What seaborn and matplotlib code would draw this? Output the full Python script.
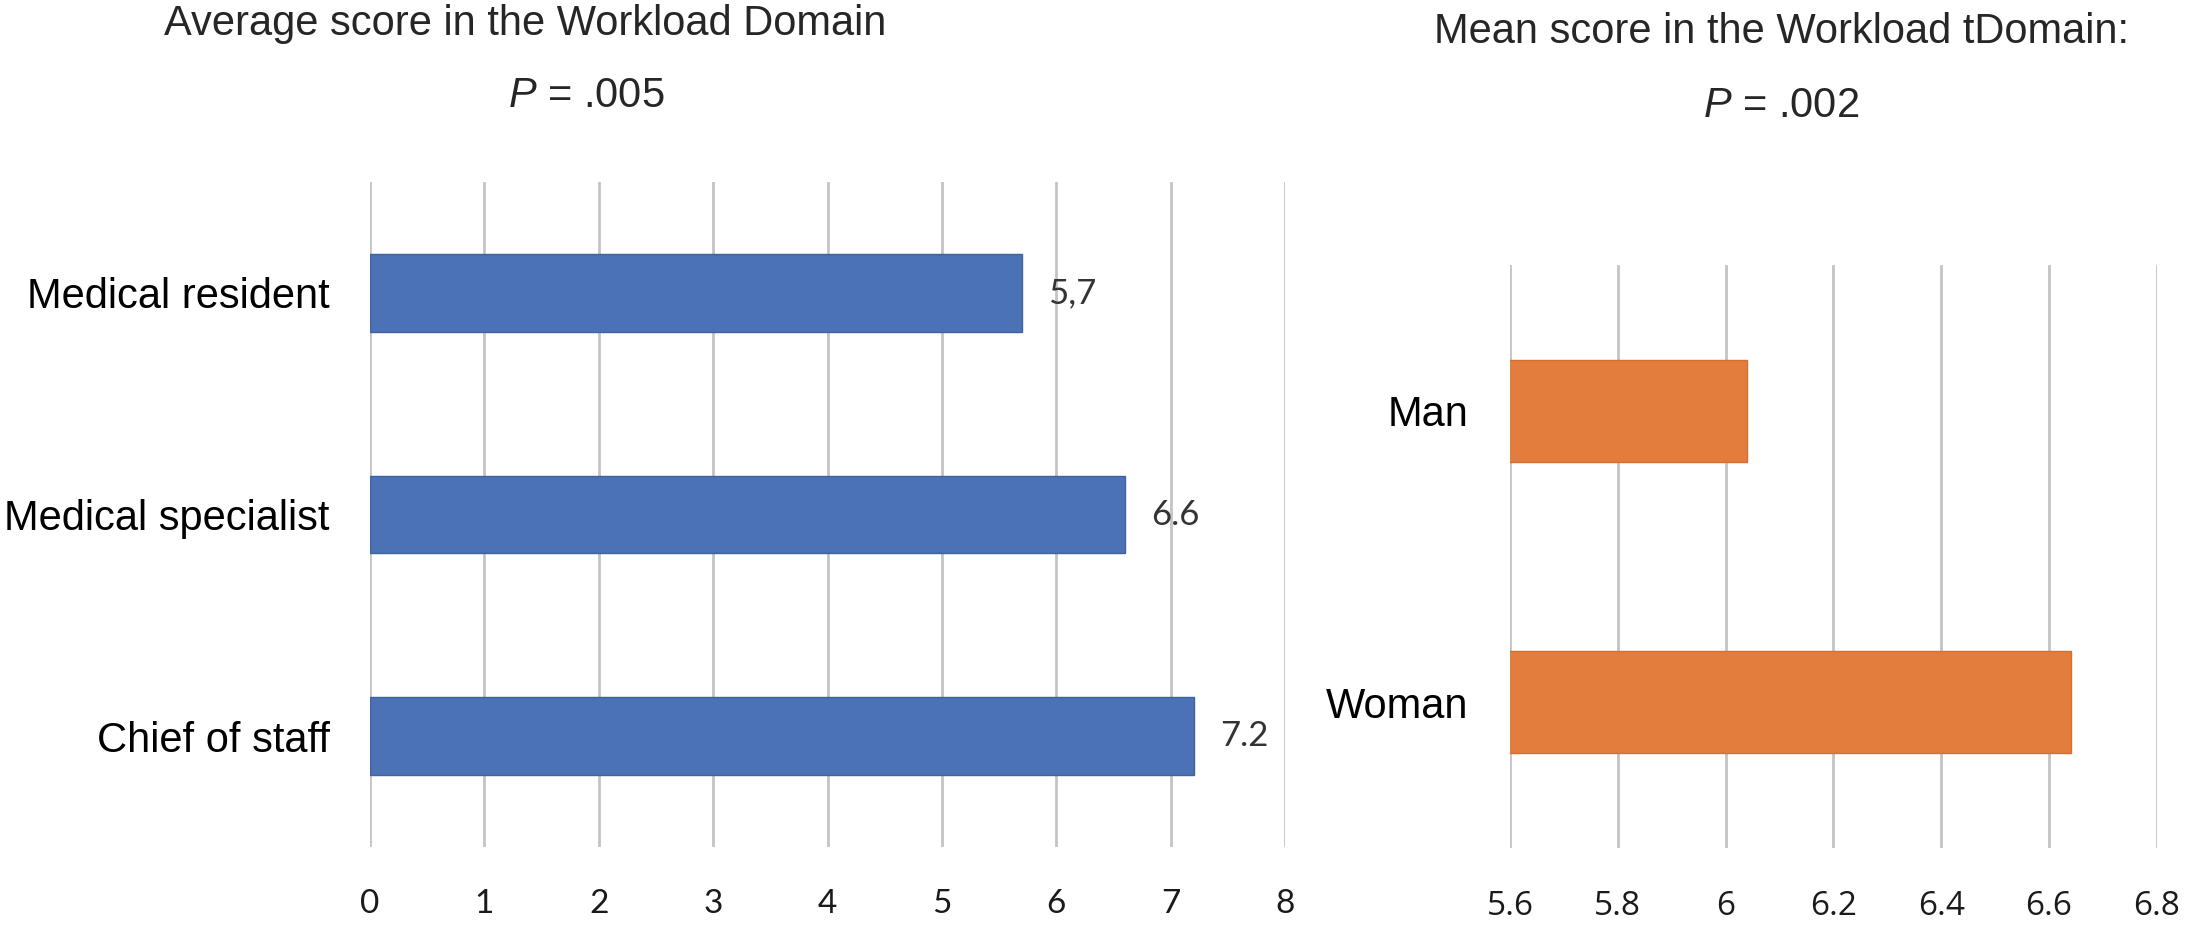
import matplotlib
matplotlib.use("Agg")
import matplotlib.pyplot as plt
import pandas as pd
import seaborn as sns

# values
roles = ["Medical resident", "Medical specialist", "Chief of staff"]
role_scores = [5.7, 6.6, 7.2]
role_value_labels = ["5,7", "6.6", "7.2"]
sexes = ["Man", "Woman"]
sex_scores = [6.04, 6.64]
left_ticks = [0, 1, 2, 3, 4, 5, 6, 7, 8]
left_tick_labels = ["0", "1", "2", "3", "4", "5", "6", "7", "8"]
right_ticks = [5.6, 5.8, 6.0, 6.2, 6.4, 6.6, 6.8]
right_tick_labels = ["5.6", "5.8", "6", "6.2", "6.4", "6.6", "6.8"]

sns.set_style("white")
plt.rcParams["font.family"] = ["Liberation Sans", "DejaVu Sans"]
plt.rcParams["mathtext.fontset"] = "custom"
plt.rcParams["mathtext.it"] = "Liberation Sans:italic"
plt.rcParams["mathtext.rm"] = "Liberation Sans"

BLUE, BLUE_EDGE = "#4A72B4", "#3E63A0"
ORANGE, ORANGE_EDGE = "#E27D3E", "#D46F30"
GRID = "#C4C4C4"

fig = plt.figure(figsize=(21.87, 9.32), dpi=100)
ax1 = fig.add_axes([0.1692, 0.0912, 0.4184, 0.7135])
ax2 = fig.add_axes([0.6904, 0.0901, 0.2958, 0.6255])


def style(ax, ticks, labels, tick_font, tick_size, ylab_pad):
    ax.set_xlim(ticks[0], ticks[-1])
    ax.set_xticks(ticks)
    ax.set_xticklabels(labels, fontfamily=tick_font, fontsize=tick_size, color="#1a1a1a")
    ax.xaxis.grid(True, color=GRID, linewidth=2.0)
    ax.yaxis.grid(False)
    ax.set_axisbelow(True)
    sns.despine(ax=ax, left=True, bottom=True)
    ax.tick_params(axis="x", length=0, pad=30)
    ax.tick_params(axis="y", length=0, pad=ylab_pad, labelsize=30, labelcolor="black")
    ax.set_xlabel("")
    ax.set_ylabel("")


roles_df = pd.DataFrame({"role": roles, "score": role_scores})
sns.barplot(data=roles_df, x="score", y="role", orient="h", color=BLUE, saturation=1,
            width=0.35, edgecolor=BLUE_EDGE, linewidth=1, ax=ax1)
style(ax1, left_ticks, left_tick_labels, "Lato", 24, 29)
for i, (v, txt) in enumerate(zip(role_scores, role_value_labels)):
    ax1.annotate(txt, xy=(v, i), xytext=(19, 0), textcoords="offset points",
                 ha="left", va="center", fontfamily="Lato", fontsize=25, color="#333333")

sex_df = pd.DataFrame({"sex": sexes, "score": sex_scores})
sns.barplot(data=sex_df, x="score", y="sex", orient="h", color=ORANGE, saturation=1,
            width=0.35, edgecolor=ORANGE_EDGE, linewidth=1, ax=ax2)
style(ax2, right_ticks, right_tick_labels, "Open Sans", 24, 30)

# titles placed by baseline, in pixel coords of the 2187x932 canvas
W, H = 2187, 932
fig.text(525 / W, 1 - 35 / H, "Average score in the Workload Domain", ha="center", va="baseline", fontsize=30)
fig.text(586 / W, 1 - 107 / H, r"$P$ = .005", ha="center", va="baseline", fontsize=30)
fig.text(1782 / W, 1 - 43 / H, "Mean score in the Workload tDomain:", ha="center", va="baseline", fontsize=30)
fig.text(1781 / W, 1 - 117 / H, r"$P$ = .002", ha="center", va="baseline", fontsize=30)

fig.savefig("out.png", dpi=100, facecolor="white")
